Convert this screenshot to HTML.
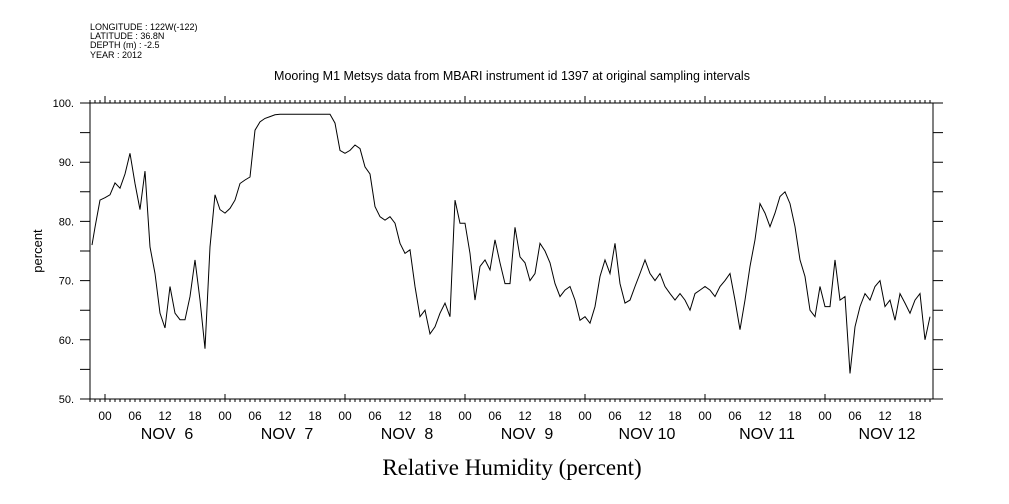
<!DOCTYPE html>
<html><head><meta charset="utf-8"><style>
body{margin:0;background:#fff;width:1009px;height:504px;overflow:hidden}
svg{display:block;font-family:"Liberation Sans",sans-serif}
</style></head><body>
<svg id="chart" width="1009" height="504" viewBox="0 0 1009 504">
<g font-size="9" fill="#000">
<text x="90" y="30">LONGITUDE : 122W(-122)</text>
<text x="90" y="39">LATITUDE : 36.8N</text>
<text x="90" y="48">DEPTH (m) : -2.5</text>
<text x="90" y="58">YEAR : 2012</text>
</g>
<text x="512" y="80" font-size="12.5" text-anchor="middle">Mooring M1 Metsys data from MBARI instrument id 1397 at original sampling intervals</text>
<text x="512" y="475" font-size="23" text-anchor="middle" font-family="Liberation Serif,serif">Relative Humidity (percent)</text>
<text transform="translate(42,251) rotate(-90)" font-size="13" text-anchor="middle">percent</text>
<g id="axes"></g>
<path id="line" fill="none" stroke="#000" stroke-width="1"/>
</svg>
<script>
const startHour = -3;
const humidity = [76,79,83.6,84,84.5,86.5,85.6,88,91.5,86.4,82,88.5,75.7,71.2,64.5,62,69,64.5,63.4,63.4,67.3,73.5,66.7,58.5,75.7,84.5,82,81.4,82.2,83.6,86.4,87,87.5,95.4,96.8,97.4,97.7,98,98.1,98.1,98.1,98.1,98.1,98.1,98.1,98.1,98.1,98.1,98.1,96.6,92,91.5,92,92.9,92.3,89.2,88,82.5,80.8,80.2,80.8,79.7,76.3,74.6,75.2,69,63.9,65,61,62.2,64.5,66.2,63.9,83.6,79.7,79.7,74.6,66.7,72.4,73.5,71.8,76.9,73,69.5,69.5,79,74,73,70,71.2,76.3,75,73,69.5,67.3,68.4,69,66.7,63.3,63.9,62.8,65.6,70.7,73.5,71.2,76.3,69.5,66.2,66.7,69,71.2,73.5,71.2,70,71.2,69,67.8,66.7,67.8,66.7,65,67.8,68.4,69,68.4,67.3,69,70,71.2,66.7,61.7,66.7,72.4,76.9,83,81.4,79.1,81.4,84.2,85,83,79.1,73.5,70.7,65,63.9,69,65.6,65.6,73.5,66.7,67.3,54.3,62.2,65.6,67.8,66.7,69,70,65.6,66.7,63.3,67.8,66.2,64.5,66.7,67.8,60,63.9];
const yTicks = [50,60,70,80,90,100];
const yTickLabels = ["50.","60.","70.","80.","90.","100."];
const hourLabels = ["00","06","12","18"];
const dayLabels = ["NOV  6","NOV  7","NOV  8","NOV  9","NOV 10","NOV 11","NOV 12"];

const X0=90,X1=933,Y0=103,Y1=399;
const xScale=h=>105+5*h;
const yScale=v=>Y1-(v-50)*(Y1-Y0)/50;
const NS="http://www.w3.org/2000/svg";
const axes=document.getElementById('axes');
function mk(tag,attrs){const e=document.createElementNS(NS,tag);for(const k in attrs)e.setAttribute(k,attrs[k]);axes.appendChild(e);return e;}
let d="M"+X0+","+Y0+"H"+X1+"V"+Y1+"H"+X0+"Z";
for(let v=50;v<=100;v+=5){const y=yScale(v);d+="M"+(X0-10)+","+y+"H"+X0+"M"+X1+","+y+"H"+(X1+10);}
for(let h=-3;h<=165;h++){const x=xScale(h);if(x<X0||x>X1)continue;
 const big=h%24===0;d+="M"+x+","+Y1+"v3M"+x+","+Y0+"v-3";
 if(big)d+="M"+x+","+Y1+"v-5M"+x+","+Y0+"v-7";}
const ax=mk('path',{d:d,stroke:'#000','stroke-width':1,fill:'none'});


yTicks.forEach((v,i)=>{const t=mk('text',{x:74,y:yScale(v)+4,'font-size':11,'text-anchor':'end'});t.textContent=yTickLabels[i];
 
 });
for(let h=0;h<=162;h+=6){const t=mk('text',{x:xScale(h),y:420,'font-size':12,'text-anchor':'middle'});t.textContent=hourLabels[(h/6)%4];
 
 }
dayLabels.forEach((s,i)=>{const t=mk('text',{x:xScale(i*24+12)+2,y:439,'font-size':16,'text-anchor':'middle','xml:space':'preserve'});t.textContent=s;t.style.whiteSpace='pre';
 
 });
let p="";humidity.forEach((v,i)=>{const x=Math.max(X0+2,xScale(startHour+i));p+=(i?"L":"M")+x.toFixed(1)+","+yScale(v).toFixed(1);});
document.getElementById('line').setAttribute('d',p);
</script>
</body></html>
